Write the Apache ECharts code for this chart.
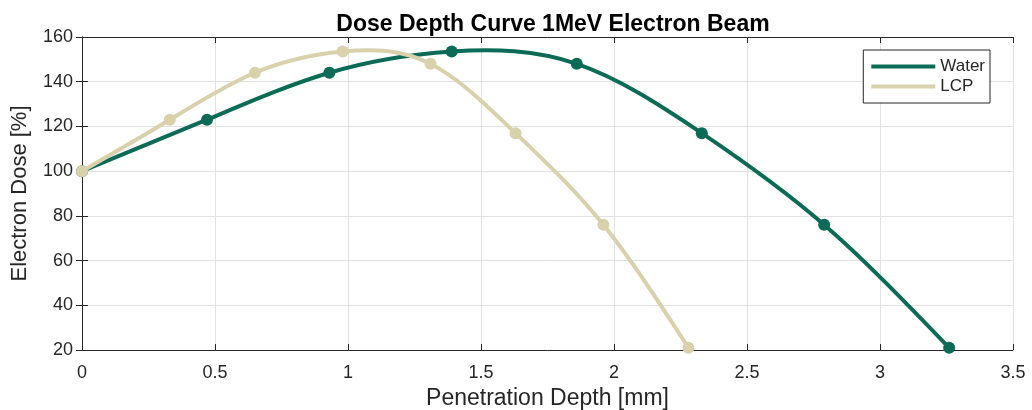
<!DOCTYPE html>
<html>
<head>
<meta charset="utf-8">
<script src="https://cdn.jsdelivr.net/npm/echarts@6/dist/echarts.min.js"></script>
<style>
  html, body { margin: 0; padding: 0; background: #fff; }
  #chart { width: 1032px; height: 410px; }
</style>
</head>
<body>
<div id="chart"></div>
<script>
// Penetration depth [mm] and relative electron dose [%]
const waterDepth = [0, 0.47, 0.93, 1.39, 1.86, 2.33, 2.79, 3.26];
const waterDose  = [100, 123, 144, 153.5, 148, 117, 76, 21];
const lcpDepth   = [0, 0.33, 0.65, 0.98, 1.31, 1.63, 1.96, 2.28];
const lcpDose    = [100, 123, 144, 153.5, 148, 117, 76, 21];
const seriesNames = ['Water', 'LCP'];
const seriesColors = ['#0b6b56', '#d9d1ab'];

const pairs = (xs, ys) => xs.map((x, i) => [x, ys[i]]);
const FONT = '"Liberation Sans", Arial, Helvetica, sans-serif';
const INK = '#262626';

// Natural cubic spline: slopes at both ends of every segment
function splineSlopes(xs, ys) {
  const n = xs.length;
  const h = [];
  for (let i = 0; i < n - 1; i++) h.push(xs[i + 1] - xs[i]);
  const M = new Array(n).fill(0);
  if (n > 2) {
    const a = [], b = [], c = [], d = [];
    for (let i = 1; i < n - 1; i++) {
      a.push(h[i - 1]);
      b.push(2 * (h[i - 1] + h[i]));
      c.push(h[i]);
      d.push(6 * ((ys[i + 1] - ys[i]) / h[i] - (ys[i] - ys[i - 1]) / h[i - 1]));
    }
    const m = b.length;
    for (let i = 1; i < m; i++) {
      const w = a[i] / b[i - 1];
      b[i] -= w * c[i - 1];
      d[i] -= w * d[i - 1];
    }
    const sol = new Array(m);
    sol[m - 1] = d[m - 1] / b[m - 1];
    for (let i = m - 2; i >= 0; i--) sol[i] = (d[i] - c[i] * sol[i + 1]) / b[i];
    for (let i = 0; i < m; i++) M[i + 1] = sol[i];
  }
  const segs = [];
  for (let i = 0; i < n - 1; i++) {
    const s = (ys[i + 1] - ys[i]) / h[i];
    segs.push({
      d0: s - h[i] * (2 * M[i] + M[i + 1]) / 6,
      d1: s + h[i] * (M[i] + 2 * M[i + 1]) / 6
    });
  }
  return segs;
}

// Custom series drawing the spline as cubic Bezier segments through the axes
function curveSeries(xs, ys, color, z) {
  const segs = splineSlopes(xs, ys);
  return {
    type: 'custom',
    coordinateSystem: 'cartesian2d',
    data: [[xs[0], ys[0]]],
    silent: true,
    z: z,
    renderItem: function (params, api) {
      const P = (x, y) => api.coord([x, y]);
      const p = P(xs[0], ys[0]);
      let path = 'M' + p[0] + ' ' + p[1];
      for (let i = 0; i < xs.length - 1; i++) {
        const h = xs[i + 1] - xs[i];
        const c1 = P(xs[i] + h / 3, ys[i] + h / 3 * segs[i].d0);
        const c2 = P(xs[i + 1] - h / 3, ys[i + 1] - h / 3 * segs[i].d1);
        const e = P(xs[i + 1], ys[i + 1]);
        path += ' C' + c1[0] + ' ' + c1[1] + ' ' + c2[0] + ' ' + c2[1] + ' ' + e[0] + ' ' + e[1];
      }
      return {
        type: 'path',
        shape: { pathData: path },
        style: { fill: 'none', stroke: color, lineWidth: 4 }
      };
    }
  };
}

function markerSeries(name, xs, ys, color, z) {
  return {
    name: name, type: 'scatter',
    data: pairs(xs, ys),
    symbol: 'circle', symbolSize: 12,
    itemStyle: { color: color, opacity: 1 },
    z: z
  };
}

const chart = echarts.init(document.getElementById('chart'), null, { renderer: 'canvas' });

const hiddenAxisCommon = {
  axisLabel: { show: false },
  splitLine: { show: false },
  axisLine: { show: true, lineStyle: { color: INK, width: 1 } },
  axisTick: { show: true, inside: true, length: 6, lineStyle: { color: INK } }
};

chart.setOption({
  animation: false,
  textStyle: { fontFamily: FONT },
  title: {
    text: 'Dose Depth Curve 1MeV Electron Beam',
    left: 548, top: 8, textAlign: 'center',
    textStyle: { fontFamily: FONT, fontWeight: 'bold', fontSize: 23, color: '#000' }
  },
  grid: { left: 82, right: 19, top: 37, bottom: 60, outerBoundsMode: 'none', containLabel: false },
  legend: {
    data: seriesNames.map(n => ({ name: n, icon: 'rect' })),
    orient: 'vertical',
    right: 42, top: 50,
    itemWidth: 64, itemHeight: 4, itemGap: 3,
    padding: [8, 5, 8, 8],
    backgroundColor: '#fff',
    borderColor: INK, borderWidth: 1, borderRadius: 0,
    textStyle: { fontFamily: FONT, fontSize: 17, color: INK }
  },
  xAxis: [
    {
      type: 'value', min: 0, max: 3.5, interval: 0.5,
      name: 'Penetration Depth [mm]', nameLocation: 'middle', nameGap: 31,
      nameTextStyle: { fontFamily: FONT, fontSize: 23, color: INK },
      axisLine: { show: true, onZero: false, lineStyle: { color: INK, width: 1 } },
      axisTick: { show: true, inside: true, length: 6, lineStyle: { color: INK } },
      axisLabel: { fontFamily: FONT, fontSize: 18, color: INK, margin: 14 },
      splitLine: { show: true, lineStyle: { color: '#e2e2e2', width: 1 } }
    },
    Object.assign({ type: 'value', min: 0, max: 3.5, interval: 0.5, position: 'top' }, hiddenAxisCommon)
  ],
  yAxis: [
    {
      type: 'value', min: 20, max: 160, interval: 20,
      name: 'Electron Dose [%]', nameLocation: 'middle', nameGap: 51,
      nameTextStyle: { fontFamily: FONT, fontSize: 22, color: INK },
      axisLine: { show: true, onZero: false, lineStyle: { color: INK, width: 1 } },
      axisTick: { show: true, inside: true, length: 6, lineStyle: { color: INK } },
      axisLabel: { fontFamily: FONT, fontSize: 18, color: INK, margin: 9 },
      splitLine: { show: true, lineStyle: { color: '#e2e2e2', width: 1 } }
    },
    Object.assign({ type: 'value', min: 20, max: 160, interval: 20, position: 'right' }, hiddenAxisCommon)
  ],
  series: [
    curveSeries(waterDepth, waterDose, seriesColors[0], 2),
    markerSeries(seriesNames[0], waterDepth, waterDose, seriesColors[0], 3),
    curveSeries(lcpDepth, lcpDose, seriesColors[1], 4),
    markerSeries(seriesNames[1], lcpDepth, lcpDose, seriesColors[1], 5)
  ]
});
</script>
</body>
</html>
